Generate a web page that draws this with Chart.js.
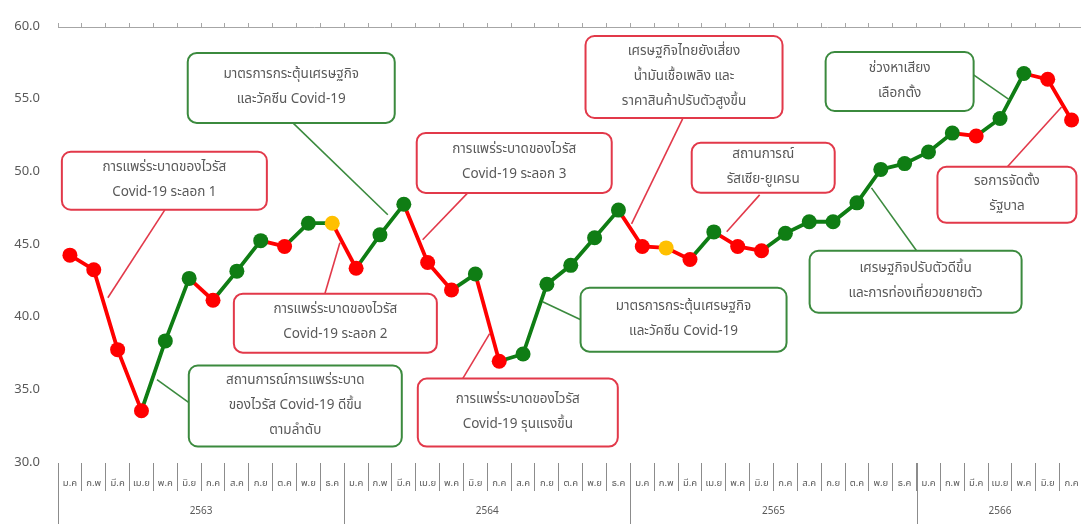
<!DOCTYPE html>
<html lang="th">
<head>
<meta charset="utf-8">
<title>ดัชนีความเชื่อมั่น</title>
<script src="https://cdn.jsdelivr.net/npm/chart.js@4.4.1/dist/chart.umd.min.js"></script>
<style>
    html, body { margin: 0; padding: 0; background: #fff; overflow: hidden; }
    #wrap { width: 1091px; height: 524px; }
</style>
</head>
<body>
<div id="wrap"><canvas id="chart" width="1091" height="524"></canvas></div>
<script>
// Data
const years = ['2563', '2564', '2565', '2566'];
const monthLabels = ['ม.ค', 'ก.พ', 'มี.ค', 'เม.ย', 'พ.ค', 'มิ.ย', 'ก.ค', 'ส.ค', 'ก.ย', 'ต.ค', 'พ.ย', 'ธ.ค'];
const monthsInLastYear = 7;
const yTicks = [30, 35, 40, 45, 50, 55, 60];

const indexValues = [
    44.3, 43.3, 37.8, 33.6, 38.4, 42.7, 41.2, 43.2, 45.3, 44.9, 46.5, 46.5,
    43.4, 45.7, 47.8, 43.8, 41.9, 43.0, 37.0, 37.5, 42.3, 43.6, 45.5, 47.4,
    44.9, 44.8, 44.0, 45.9, 44.9, 44.6, 45.8, 46.6, 46.6, 47.9, 50.2, 50.6,
    51.4, 52.7, 52.5, 53.7, 56.8, 56.4, 53.6
];

// down = แย่ลง, up = ดีขึ้น, flat = ทรงตัว
const trend = [
    'down', 'down', 'down', 'down', 'up', 'up', 'down', 'up', 'up', 'down', 'up', 'flat',
    'down', 'up', 'up', 'down', 'down', 'up', 'down', 'up', 'up', 'up', 'up', 'up',
    'down', 'flat', 'down', 'up', 'down', 'down', 'up', 'up', 'up', 'up', 'up', 'up',
    'up', 'up', 'down', 'up', 'up', 'down', 'down'
];

// Callouts: box centre and leader line given in chart units (month index, index value)
const callouts = [
    { tone: 'down', lines: ['การแพร่ระบาดของไวรัส', 'Covid-19 ระลอก 1'], at: [3.96, 49.42], size: [205, 58], from: [3.98, 47.42], to: [1.59, 41.37] },
    { tone: 'up', lines: ['มาตรการกระตุ้นเศรษฐกิจ', 'และวัคซีน Covid-19'], at: [9.28, 55.81], size: [207, 70], from: [9.35, 53.40], to: [13.33, 47.08] },
    { tone: 'down', lines: ['การแพร่ระบาดของไวรัส', 'Covid-19 ระลอก 3'], at: [18.63, 50.65], size: [195, 60], from: [16.68, 48.59], to: [14.79, 45.36] },
    { tone: 'down', lines: ['เศรษฐกิจไทยยังเสี่ยง', 'น้ำมันเชื้อเพลิง และ', 'ราคาสินค้าปรับตัวสูงขึ้น'], at: [25.75, 56.56], size: [197, 82], from: [25.69, 53.68], to: [23.55, 46.46] },
    { tone: 'up', lines: ['ช่วงหาเสียง', 'เลือกตั้ง'], at: [34.79, 56.25], size: [148, 59], from: [37.89, 56.70], to: [39.40, 54.98] },
    { tone: 'down', lines: ['สถานการณ์', 'รัสเซีย-ยูเครน'], at: [29.07, 50.31], size: [143, 50], from: [28.92, 48.45], to: [27.54, 45.91] },
    { tone: 'down', lines: ['รอการจัดตั้ง', 'รัฐบาล'], at: [39.29, 48.45], size: [139, 56], from: [39.31, 50.38], to: [41.58, 54.50] },
    { tone: 'up', lines: ['เศรษฐกิจปรับตัวดีขึ้น', 'และการท่องเที่ยวขยายตัว'], at: [35.46, 42.47], size: [212, 62], from: [35.50, 44.60], to: [33.61, 48.93] },
    { tone: 'up', lines: ['มาตรการกระตุ้นเศรษฐกิจ', 'และวัคซีน Covid-19'], at: [25.73, 39.86], size: [206, 64], from: [21.42, 39.86], to: [19.82, 41.10] },
    { tone: 'down', lines: ['การแพร่ระบาดของไวรัส', 'Covid-19 ระลอก 2'], at: [11.13, 39.62], size: [203, 59], from: [10.69, 41.65], to: [11.32, 45.15] },
    { tone: 'up', lines: ['สถานการณ์การแพร่ระบาด', 'ของไวรัส Covid-19 ดีขึ้น', 'ตามลำดับ'], at: [9.45, 33.92], size: [213, 81], from: [4.99, 34.16], to: [3.65, 35.74] },
    { tone: 'down', lines: ['การแพร่ระบาดของไวรัส', 'Covid-19 รุนแรงขึ้น'], at: [18.78, 33.47], size: [200, 68], from: [16.47, 35.81], to: [17.60, 38.90] }
];

// Styles
const fontFamily = "Tahoma, 'Leelawadee UI', 'Noto Sans Thai', 'Noto Sans', 'DejaVu Sans', sans-serif";
const textColor = '#595959';
const axisColor = '#8c8c8c';
const trendColors = { up: '#0f7d14', down: '#ff0000', flat: '#ffc000' };
const boxColors = { up: '#3b8a3e', down: '#e2394a' };

// Build month categories from the tick labels
const categories = [];
years.forEach((year, i) => {
    const count = i === years.length - 1 ? monthsInLastYear : monthLabels.length;
    for (let m = 0; m < count; m++) {
        categories.push(monthLabels[m]);
    }
});

function segmentColor(ctx) {
    const end = trend[ctx.p1DataIndex];
    if (end === 'flat') {
        return trendColors[trend[ctx.p0DataIndex]];
    }
    return trendColors[end];
}

const calloutPlugin = {
    id: 'callouts',
    afterDatasetsDraw(chart) {
        const { ctx } = chart;
        const x = chart.scales.x;
        const y = chart.scales.y;

        ctx.save();
        callouts.forEach(c => {
            const color = boxColors[c.tone];

            // Leader line
            ctx.strokeStyle = color;
            ctx.lineWidth = 1.6;
            ctx.beginPath();
            ctx.moveTo(x.getPixelForValue(c.from[0]), y.getPixelForValue(c.from[1]));
            ctx.lineTo(x.getPixelForValue(c.to[0]), y.getPixelForValue(c.to[1]));
            ctx.stroke();

            // Box
            const cx = x.getPixelForValue(c.at[0]);
            const cy = y.getPixelForValue(c.at[1]);
            const w = c.size[0];
            const h = c.size[1];
            ctx.fillStyle = '#ffffff';
            ctx.lineWidth = 2;
            ctx.beginPath();
            ctx.roundRect(cx - w / 2, cy - h / 2, w, h, 9);
            ctx.fill();
            ctx.stroke();

            // Text
            ctx.fillStyle = textColor;
            ctx.font = '13.5px ' + fontFamily;
            ctx.textAlign = 'center';
            ctx.textBaseline = 'middle';
            const lineHeight = 25;
            const top = cy - (c.lines.length - 1) * lineHeight / 2;
            c.lines.forEach((line, i) => {
                ctx.fillText(line, cx, top + i * lineHeight);
            });
        });
        ctx.restore();
    }
};

const yearAxisPlugin = {
    id: 'yearAxis',
    afterDraw(chart) {
        const { ctx, chartArea } = chart;
        const x = chart.scales.x;
        const half = (x.getPixelForValue(1) - x.getPixelForValue(0)) / 2;

        ctx.save();
        ctx.strokeStyle = axisColor;
        ctx.lineWidth = 1;
        ctx.fillStyle = textColor;
        ctx.font = '10px ' + fontFamily;
        ctx.textAlign = 'center';
        ctx.textBaseline = 'middle';

        years.forEach((year, i) => {
            const first = i * monthLabels.length;
            const last = Math.min(first + monthLabels.length - 1, categories.length - 1);
            const left = x.getPixelForValue(first) - half;
            const right = x.getPixelForValue(last) + half;

            ctx.beginPath();
            ctx.moveTo(Math.round(left) + 0.5, chartArea.bottom);
            ctx.lineTo(Math.round(left) + 0.5, chart.height);
            ctx.stroke();

            ctx.fillText(year, (left + right) / 2, chart.height - 12);
        });
        ctx.restore();
    }
};

Chart.defaults.font.family = fontFamily;
Chart.defaults.color = textColor;

const chart = new Chart(document.getElementById('chart'), {
    type: 'line',
    data: {
        labels: categories,
        datasets: [{
            label: 'ดัชนี',
            data: indexValues,
            borderWidth: 3.8,
            borderColor: trendColors.up,
            segment: {
                borderColor: segmentColor
            },
            pointRadius: 7.5,
            pointHoverRadius: 7.5,
            pointBorderWidth: 0,
            pointBackgroundColor: ctx => trendColors[trend[ctx.dataIndex]],
            tension: 0
        }]
    },
    options: {
        responsive: false,
        animation: false,
        events: [],
        layout: {
            padding: { top: 21, right: 1, bottom: 0, left: 0 }
        },
        plugins: {
            legend: { display: false },
            tooltip: { enabled: false }
        },
        scales: {
            x: {
                type: 'category',
                position: 'bottom',
                offset: true,
                grid: {
                    offset: true,
                    drawOnChartArea: false,
                    tickLength: 28,
                    color: axisColor
                },
                border: { display: false },
                ticks: {
                    autoSkip: false,
                    maxRotation: 0,
                    padding: -13,
                    font: { size: 9.5 },
                    color: textColor
                },
                afterFit: scale => { scale.height = 61; }
            },
            x2: {
                type: 'category',
                position: 'top',
                offset: true,
                grid: {
                    offset: true,
                    drawOnChartArea: false,
                    tickLength: 4,
                    color: '#a6a6a6'
                },
                border: { display: true, color: '#a6a6a6' },
                ticks: { display: false },
                afterFit: scale => { scale.height = 6; }
            },
            y: {
                min: 30,
                max: 60,
                grid: { display: false, drawTicks: false },
                border: { display: false },
                afterBuildTicks: scale => {
                    scale.ticks = yTicks.map(v => ({ value: v }));
                },
                ticks: {
                    padding: 18,
                    font: { size: 13 },
                    color: textColor,
                    callback: value => value.toFixed(1)
                },
                afterFit: scale => { scale.width = 58; }
            }
        }
    },
    plugins: [calloutPlugin, yearAxisPlugin]
});
</script>
</body>
</html>
